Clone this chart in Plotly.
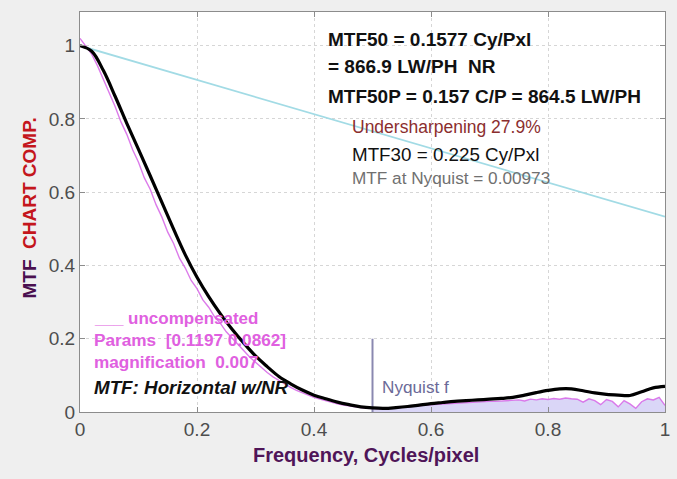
import plotly.graph_objects as go

# ---- data ----
black_x = [0.00, 0.02, 0.04, 0.06, 0.08, 0.10, 0.12, 0.14, 0.16, 0.18, 0.20, 0.22, 0.24, 0.26,
           0.28, 0.30, 0.32, 0.34, 0.36, 0.38, 0.40, 0.42, 0.44, 0.46, 0.48, 0.50, 0.52, 0.54,
           0.56, 0.58, 0.60, 0.62, 0.64, 0.66, 0.68, 0.70, 0.72, 0.74, 0.76, 0.78, 0.80, 0.82,
           0.84, 0.86, 0.88, 0.90, 0.92, 0.94, 0.96, 0.98, 1.00]
black_y = [1.000, 0.985, 0.932, 0.862, 0.788, 0.717, 0.645, 0.572, 0.499, 0.429, 0.368, 0.315,
           0.268, 0.226, 0.188, 0.153, 0.124, 0.097, 0.077, 0.060, 0.046, 0.036, 0.027, 0.020,
           0.014, 0.011, 0.010, 0.012, 0.015, 0.019, 0.023, 0.026, 0.029, 0.031, 0.033, 0.035,
           0.037, 0.040, 0.046, 0.053, 0.059, 0.063, 0.063, 0.058, 0.052, 0.048, 0.046, 0.045,
           0.055, 0.066, 0.070]

mag_x = [i / 100 for i in range(101)]
mag_y = [1.020, 1.000, 0.977, 0.945, 0.908, 0.872, 0.834, 0.792, 0.758, 0.716,
         0.682, 0.639, 0.608, 0.566, 0.532, 0.491, 0.460, 0.420, 0.393, 0.359,
         0.337, 0.306, 0.286, 0.260, 0.242, 0.219, 0.202, 0.182, 0.167, 0.150,
         0.136, 0.121, 0.108, 0.096, 0.086, 0.076, 0.067, 0.059, 0.052, 0.046,
         0.040, 0.035, 0.030, 0.026, 0.022, 0.019, 0.016, 0.014, 0.012, 0.010,
         0.009, 0.009, 0.009, 0.010, 0.011, 0.012, 0.014, 0.016, 0.017, 0.019,
         0.020, 0.021, 0.022, 0.023, 0.024, 0.025, 0.026, 0.027, 0.027, 0.028,
         0.029, 0.029, 0.030, 0.031, 0.032, 0.033, 0.030, 0.035, 0.033, 0.036,
         0.034, 0.037, 0.035, 0.038, 0.036, 0.035, 0.027, 0.036, 0.031, 0.020,
         0.034, 0.029, 0.014, 0.031, 0.022, 0.010, 0.028, 0.036, 0.033, 0.040,
         0.018]

ref_x = [0.0, 1.0]
ref_y = [1.0, 0.533]

nyq_x = [0.5, 0.5]
nyq_y = [0.0, 0.2]

tick_vals = [0, 0.2, 0.4, 0.6, 0.8, 1]
tick_text = ["0", "0.2", "0.4", "0.6", "0.8", "1"]

# ---- figure ----
fig = go.Figure()

fill_x = [x for x in mag_x if x >= 0.5]
fill_y = [y for x, y in zip(mag_x, mag_y) if x >= 0.5]
fig.add_trace(go.Scatter(x=fill_x, y=fill_y, mode="lines", fill="tozeroy",
                         fillcolor="rgba(214,210,246,0.9)", line=dict(width=0),
                         hoverinfo="skip", showlegend=False))
fig.add_trace(go.Scatter(x=ref_x, y=ref_y, mode="lines",
                         line=dict(color="#a2dbe5", width=1.8), showlegend=False))
fig.add_trace(go.Scatter(x=mag_x, y=mag_y, mode="lines",
                         line=dict(color="rgba(214,100,230,0.85)", width=1.4), showlegend=False))
fig.add_trace(go.Scatter(x=nyq_x, y=nyq_y, mode="lines",
                         line=dict(color="#8a88b0", width=2), showlegend=False))
fig.add_trace(go.Scatter(x=black_x, y=black_y, mode="lines", line_shape="spline",
                         line=dict(color="#000000", width=3.2), showlegend=False))

FONT = "Liberation Sans, Arial, sans-serif"

def ann(x, y, text, size, color, bold=False, italic=False):
    t = text
    if bold:
        t = "<b>" + t + "</b>"
    if italic:
        t = "<i>" + t + "</i>"
    fig.add_annotation(x=x, y=y, xref="x", yref="y", text=t, showarrow=False,
                       xanchor="left", yanchor="middle",
                       font=dict(family=FONT, size=size, color=color))

ann(0.42, 1.016, "MTF50 = 0.1577 Cy/Pxl", 19, "#111111", bold=True)
ann(0.42, 0.942, "= 866.9 LW/PH  NR", 19, "#111111", bold=True)
ann(0.42, 0.860, "MTF50P = 0.157 C/P = 864.5 LW/PH", 19, "#111111", bold=True)
ann(0.461, 0.778, "Undersharpening 27.9%", 17.5, "#8b2e2e")
ann(0.461, 0.702, "MTF30 = 0.225 Cy/Pxl", 18.8, "#111111")
ann(0.461, 0.639, "MTF at Nyquist = 0.00973", 17.2, "#707070")

ann(0.02, 0.254, "___ uncompensated", 17, "#e060e0", bold=True)
ann(0.02, 0.197, "Params  [0.1197 0.0862]", 17.2, "#e060e0", bold=True)
ann(0.02, 0.137, "magnification  0.007", 17.2, "#e060e0", bold=True)
ann(0.02, 0.066, "MTF: Horizontal w/NR", 18.8, "#111111", bold=True, italic=True)
ann(0.512, 0.069, "Nyquist f", 17.2, "#6b6a98")

fig.add_annotation(x=-0.088, y=0.51, xref="paper", yref="paper", textangle=-90,
                   showarrow=False, xanchor="center", yanchor="middle",
                   text="<b><span style='color:#4a1050'>MTF</span>  "
                        "<span style='color:#c4161c'>CHART COMP.</span></b>",
                   font=dict(family=FONT, size=19))
fig.add_annotation(x=0.489, y=-0.107, xref="paper", yref="paper",
                   showarrow=False, xanchor="center", yanchor="middle",
                   text="<b>Frequency, Cycles/pixel</b>",
                   font=dict(family=FONT, size=20, color="#4f1558"))

axis_common = dict(showline=True, linecolor="#8c8c8c", linewidth=1, mirror="ticks",
                   ticks="inside", ticklen=5, tickcolor="#8c8c8c",
                   showgrid=True, gridcolor="#d6d6d6", griddash="dot", gridwidth=1,
                   zeroline=False, tickvals=tick_vals, ticktext=tick_text,
                   tickfont=dict(family=FONT, size=19, color="#4d4d4d"))

fig.update_xaxes(range=[0, 1], **axis_common)
fig.update_yaxes(range=[0, 1.092], **axis_common)

fig.update_layout(width=677, height=479, autosize=False,
                  margin=dict(l=80, r=7, t=12, b=66.7),
                  paper_bgcolor="#efefef", plot_bgcolor="#ffffff",
                  showlegend=False)

fig.write_html("out.html")
